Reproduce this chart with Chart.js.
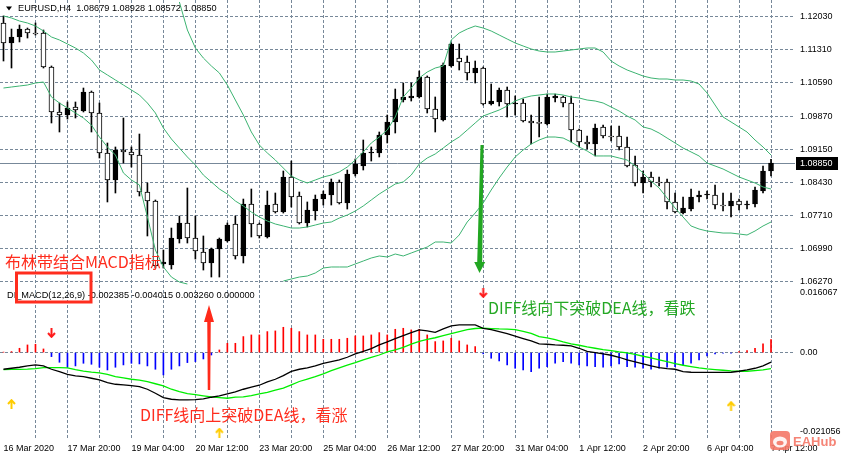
<!DOCTYPE html>
<html><head><meta charset="utf-8">
<script src="https://cdn.jsdelivr.net/npm/chart.js@4.4.1/dist/chart.umd.min.js"></script>
<style>html,body{margin:0;padding:0;background:#fff;overflow:hidden}#wrap{position:relative;width:841px;height:456px}canvas{display:block}</style>
</head><body><div id="wrap"><canvas id="c" width="841" height="456"></canvas></div>
<script>
// ---------- data ----------
const symbolTitle = 'EURUSD,H4  1.08679 1.08928 1.08572 1.08850';
const macdTitle = 'DI_MACD(12,26,9) -0.002385 -0.004015 0.003260 0.000000';
const lastPrice = 1.08850;

const xLabelIdx = [0, 8, 16, 24, 32, 40, 48, 56, 64, 72, 80, 88, 96];
const xLabelText = ['16 Mar 2020','17 Mar 20:00','19 Mar 04:00','20 Mar 12:00','23 Mar 20:00','25 Mar 04:00','26 Mar 12:00','27 Mar 20:00','31 Mar 04:00','1 Apr 12:00','2 Apr 20:00','6 Apr 04:00','7 Apr 12:00'];
const xGridIdx = [0,4,8,12,16,20,24,28,32,36,40,44,48,52,56,60,64,68,72,76,80,84,88,92,96];

const priceTicks = [1.12030,1.11310,1.10590,1.09870,1.09150,1.08430,1.07710,1.06990,1.06270];
const macdTickText = ['0.016067','0.00','-0.021056'];
const macdTickAt = [0.014848, 0, -0.01978];

const open = [1.11893,1.11459,1.11589,1.11762,1.11676,1.11676,1.10937,1.09959,1.09893,1.10067,
 1.09980,1.10394,1.09937,1.09068,1.08481,1.09133,1.09090,1.09024,1.08220,1.08024,
 1.06655,1.06633,1.07198,1.07546,1.07220,1.06916,1.06677,1.06980,1.07154,1.07524,
 1.06829,1.07959,1.07524,1.07242,1.07959,1.07785,1.08546,1.08133,1.07546,1.07806,
 1.08067,1.08154,1.08438,1.07981,1.08611,1.08785,1.09068,1.09068,1.09458,1.09742,
 1.10219,1.10263,1.10285,1.10720,1.10023,1.09785,1.10959,1.11132,1.11046,1.10807,
 1.10915,1.10132,1.10176,1.10437,1.10132,1.10154,1.09763,1.09720,1.09698,1.10263,
 1.10285,1.10154,1.09567,1.09307,1.09263,1.09633,1.09437,1.09437,1.09198,1.08806,
 1.08416,1.08546,1.08438,1.08438,1.08003,1.07763,1.07850,1.08111,1.08154,1.08154,
 1.07937,1.07915,1.08024,1.07937,1.07959,1.08241,1.08679];
const high = [1.12046,1.11762,1.11849,1.11784,1.11893,1.11741,1.10959,1.10154,1.10176,1.10176,
 1.10480,1.10415,1.10154,1.09285,1.09198,1.09828,1.09198,1.09480,1.08416,1.08046,
 1.06959,1.07437,1.07698,1.08307,1.07698,1.07264,1.07002,1.07220,1.07546,1.07698,
 1.08067,1.08285,1.07546,1.08241,1.08198,1.08676,1.08893,1.08220,1.08003,1.08154,
 1.08241,1.08502,1.08481,1.08698,1.08937,1.09350,1.09198,1.09524,1.09893,1.10458,
 1.10589,1.10589,1.10850,1.10742,1.10285,1.11024,1.11459,1.11437,1.11176,1.11067,
 1.10937,1.10567,1.10480,1.10502,1.10307,1.10241,1.09893,1.10285,1.10350,1.10350,
 1.10307,1.10307,1.09589,1.09437,1.09698,1.09676,1.09655,1.09655,1.09415,1.09003,
 1.08676,1.08655,1.08546,1.08502,1.08198,1.08111,1.08285,1.08241,1.08241,1.08372,
 1.08198,1.08198,1.08067,1.08024,1.08328,1.08785,1.08928];
const low = [1.11067,1.10915,1.11481,1.11567,1.11632,1.10915,1.09720,1.09524,1.09806,1.09828,
 1.09959,1.09524,1.08959,1.08003,1.08198,1.08850,1.08763,1.08133,1.07264,1.06568,
 1.06568,1.06546,1.07111,1.07111,1.06763,1.06524,1.06372,1.06372,1.07133,1.06763,
 1.06677,1.07242,1.07220,1.07220,1.07763,1.07763,1.07894,1.07524,1.07459,1.07611,
 1.07937,1.07937,1.07959,1.07850,1.08568,1.08698,1.08893,1.08981,1.09285,1.09502,
 1.10176,1.10197,1.10263,1.09937,1.09524,1.09763,1.10937,1.10872,1.10654,1.10589,
 1.10110,1.10110,1.10089,1.09850,1.09893,1.09742,1.09263,1.09415,1.09676,1.10176,
 1.10067,1.09307,1.09198,1.09154,1.09003,1.09393,1.09328,1.09133,1.08763,1.08351,
 1.08198,1.08329,1.08351,1.07850,1.07763,1.07741,1.07806,1.08003,1.08067,1.07850,
 1.07806,1.07676,1.07828,1.07850,1.07894,1.08198,1.08572];
const close = [1.11459,1.11589,1.11762,1.11676,1.11654,1.10937,1.09959,1.09893,1.10045,1.10002,
 1.10394,1.09937,1.09068,1.08481,1.09133,1.09090,1.09024,1.08220,1.08024,1.06612,
 1.06699,1.07220,1.07546,1.07220,1.06937,1.06677,1.06980,1.07198,1.07502,1.06829,
 1.07959,1.07524,1.07264,1.07937,1.07785,1.08546,1.08111,1.07546,1.07828,1.08067,
 1.08176,1.08438,1.07981,1.08611,1.08828,1.09068,1.09090,1.09458,1.09742,1.10241,
 1.10285,1.10307,1.10720,1.10023,1.09806,1.10980,1.11437,1.11046,1.10807,1.10915,
 1.10132,1.10197,1.10437,1.10132,1.10154,1.09763,1.09720,1.09710,1.10285,1.10307,
 1.10154,1.09567,1.09307,1.09263,1.09611,1.09437,1.09415,1.09198,1.08785,1.08416,
 1.08546,1.08438,1.08416,1.08003,1.07785,1.07872,1.08111,1.08154,1.08176,1.07937,
 1.07915,1.08024,1.07937,1.07959,1.08263,1.08676,1.08850];

const bbMiddle = [1.12046,1.12002,1.11936,1.11893,1.11828,1.11719,1.11589,1.11524,1.11437,1.11350,
 1.11241,1.11089,1.10872,1.10763,1.10654,1.10545,1.10437,1.10328,1.10154,1.09937,
 1.09611,1.09372,1.09176,1.08981,1.08807,1.08589,1.08438,1.08285,1.08176,1.08024,
 1.07916,1.07785,1.07676,1.07590,1.07524,1.07481,1.07437,1.07437,1.07459,1.07502,
 1.07546,1.07568,1.07654,1.07719,1.07806,1.07916,1.08046,1.08176,1.08285,1.08394,
 1.08438,1.08589,1.08828,1.08959,1.09046,1.09176,1.09307,1.09415,1.09567,1.09720,
 1.09872,1.09937,1.10002,1.10089,1.10198,1.10263,1.10307,1.10328,1.10350,1.10350,
 1.10328,1.10285,1.10263,1.10219,1.10198,1.10154,1.10067,1.09980,1.09872,1.09785,
 1.09633,1.09589,1.09502,1.09393,1.09285,1.09176,1.09090,1.09003,1.08850,1.08785,
 1.08720,1.08633,1.08546,1.08481,1.08416,1.08329,1.08285];
const bbUpper = [null,null,null,null,null,null,null,null,null,null,
 null,null,null,null,null,null,null,null,null,null,
 null,null,1.12350,1.11741,1.11350,1.11132,1.10959,1.10807,1.10545,1.10219,
 1.09893,1.09524,1.09241,1.09068,1.08915,1.08741,1.08567,1.08481,1.08416,1.08481,
 1.08546,1.08589,1.08655,1.08763,1.08915,1.09090,1.09285,1.09415,1.09567,1.09850,
 1.10285,1.10480,1.10698,1.10828,1.10915,1.10959,1.11524,1.11676,1.11762,1.11828,
 1.11784,1.11719,1.11632,1.11545,1.11459,1.11393,1.11328,1.11284,1.11263,1.11263,
 1.11284,1.11306,1.11328,1.11350,1.11350,1.11263,1.11067,1.10959,1.10872,1.10807,
 1.10741,1.10698,1.10676,1.10676,1.10654,1.10654,1.10632,1.10567,1.10372,1.10111,
 1.09850,1.09742,1.09633,1.09524,1.09350,1.09198,1.09024];
const bbLower = [1.10480,1.10502,1.10524,1.10545,1.10589,1.10611,1.10285,1.10154,1.10045,1.09937,
 1.09828,1.09676,1.09415,1.09198,1.09024,1.08633,1.08481,1.08372,1.07676,1.06959,
 1.06590,1.06372,1.06263,1.06220,null,null,null,null,null,null,
 null,null,null,null,null,1.06285,1.06329,1.06372,1.06394,1.06459,
 1.06568,1.06590,1.06590,1.06590,1.06655,1.06720,1.06785,1.06829,1.06807,1.06872,
 1.06829,1.06894,1.06959,1.07024,1.07133,1.07133,1.07111,1.07285,1.07568,1.07763,
 1.07981,1.08263,1.08524,1.08763,1.08981,1.09133,1.09263,1.09350,1.09415,1.09415,
 1.09393,1.09307,1.09198,1.09111,1.09003,1.09003,1.09003,1.08959,1.08915,1.08785,
 1.08633,1.08459,1.08307,1.08089,1.07872,1.07676,1.07481,1.07415,1.07372,1.07350,
 1.07328,1.07328,1.07307,1.07285,1.07372,1.07481,1.07568];

const macdHist = [0.0001,0.00025,0.00108,0.00191,0.00208,0.00091,-0.001,-0.00241,-0.00365,-0.00332,
 -0.00266,-0.00291,-0.00365,-0.00432,-0.00365,-0.00307,-0.00266,-0.00282,-0.00332,-0.00415,
 -0.00556,-0.00415,-0.00332,-0.00249,-0.00224,-0.00158,-0.0006,0.00066,0.00232,0.00232,
 0.00399,0.0044,0.0044,0.00523,0.0054,0.00631,0.00606,0.00523,0.0044,0.0044,
 0.00332,0.00332,0.00332,0.00357,0.00415,0.00415,0.0044,0.00498,0.0044,0.00581,
 0.00606,0.00565,0.00581,0.0044,0.00274,0.00291,0.00357,0.00291,0.00191,0.0015,
 -0.0003,-0.00141,-0.00208,-0.00307,-0.0039,-0.00432,-0.00473,-0.0039,-0.00349,-0.00266,
 -0.00224,-0.00266,-0.00307,-0.00332,-0.00349,-0.00365,-0.00332,-0.00282,-0.00349,-0.00365,
 -0.0039,-0.00415,-0.0039,-0.00365,-0.00349,-0.00307,-0.00266,-0.00183,-0.00083,-0.00033,
 -0.00017,-0.0001,0.00025,0.0005,0.00108,0.00216,0.00326];
const macdDiff = [-0.00415,-0.0039,-0.00365,-0.00332,-0.00307,-0.00332,-0.00415,-0.00473,-0.0054,-0.00581,
 -0.00598,-0.00639,-0.00681,-0.00747,-0.00789,-0.00805,-0.00822,-0.00847,-0.00913,-0.01013,
 -0.01121,-0.01162,-0.01179,-0.01179,-0.0117,-0.01154,-0.01112,-0.01079,-0.01029,-0.00979,
 -0.00913,-0.00863,-0.00813,-0.0073,-0.00664,-0.00573,-0.0047,-0.00415,-0.00382,-0.00332,
 -0.00266,-0.00224,-0.00183,-0.00116,-0.00033,0.00033,0.001,0.00191,0.00266,0.00349,
 0.00423,0.00498,0.00565,0.0054,0.00506,0.00589,0.00664,0.00689,0.00689,0.00689,
 0.00606,0.0057,0.0052,0.0047,0.0041,0.0035,0.0029,0.00216,0.00208,0.00191,
 0.00183,0.00166,0.00108,0.00033,0,-0.00033,-0.00066,-0.00116,-0.00183,-0.00232,
 -0.00282,-0.00332,-0.00374,-0.00398,-0.00415,-0.00475,-0.0049,-0.00495,-0.00495,-0.00495,
 -0.00495,-0.0049,-0.00465,-0.00432,-0.0039,-0.00332,-0.002385];
const macdDea = [-0.00426,-0.00418,-0.00417,-0.00413,-0.004,-0.00376,-0.00374,-0.00372,-0.00382,-0.00424,
 -0.00461,-0.00487,-0.00507,-0.00544,-0.00598,-0.00632,-0.00664,-0.00685,-0.00722,-0.00776,
 -0.00828,-0.00913,-0.00972,-0.01021,-0.01048,-0.01077,-0.01105,-0.0112,-0.01137,-0.01108,
 -0.01104,-0.01072,-0.01031,-0.0099,-0.00936,-0.00884,-0.00802,-0.0072,-0.0066,-0.006,
 -0.0053,-0.0045,-0.0038,-0.0031,-0.0025,-0.0018,-0.0012,-0.0006,0.0002,0.0007,
 0.0013,0.0021,0.0028,0.0033,0.0037,0.0042,0.0047,0.0052,0.0057,0.006,
 0.0061,0.00598,0.00589,0.00585,0.00573,0.00531,0.00481,0.00398,0.00365,0.00324,
 0.00266,0.00216,0.00183,0.00141,0.00108,0.00075,0.0005,0.00017,-0.00008,-0.00042,
 -0.00091,-0.00133,-0.00183,-0.00224,-0.00274,-0.00315,-0.00349,-0.00382,-0.00407,-0.00423,
 -0.0044,-0.00457,-0.00465,-0.00465,-0.00448,-0.00432,-0.004015];

const sigDownIdx = [6, 60];
const sigDownVal = [0.00488, 0.01485];
const sigUpIdx = [1, 27, 91];
const sigUpVal = [-0.0128, -0.01995, -0.0133];

// ---------- layout / style ----------
const MAIN_H = 287, SUB_H = 153, AXIS_W = 46, XAXIS_H = 16;
const GRID = '#778899', DASH = [3, 2];
const BAND = '#3cb371';
const AX_FONT = {family: 'Liberation Sans', size: 9};

function arrowGlyph(color, pointUp) {
  const c = document.createElement('canvas'); c.width = 9; c.height = 10;
  const g = c.getContext('2d');
  g.strokeStyle = color; g.lineWidth = 2; g.lineCap = 'butt'; g.lineJoin = 'miter';
  g.save();
  if (pointUp) { g.translate(0, 10); g.scale(1, -1); }
  g.beginPath(); g.moveTo(4.5, 0); g.lineTo(4.5, 9); g.stroke();
  g.beginPath(); g.moveTo(1, 5); g.lineTo(4.5, 8.8); g.lineTo(8, 5); g.stroke();
  g.restore();
  return c;
}

const idx = open.map((_, i) => i);
const pts = arr => idx.map(i => ({x: i, y: arr[i]}));

function drawArrow(ctx, x0, y0, x1, y1, headLen, headW, tailW, neckW, color) {
  const dx = x1 - x0, dy = y1 - y0, len = Math.hypot(dx, dy);
  const ux = dx / len, uy = dy / len, nx = -uy, ny = ux;
  const nX = x1 - ux * headLen, nY = y1 - uy * headLen;
  ctx.beginPath();
  ctx.moveTo(x0 + nx * tailW / 2, y0 + ny * tailW / 2);
  ctx.lineTo(nX + nx * neckW / 2, nY + ny * neckW / 2);
  ctx.lineTo(nX + nx * headW / 2, nY + ny * headW / 2);
  ctx.lineTo(x1, y1);
  ctx.lineTo(nX - nx * headW / 2, nY - ny * headW / 2);
  ctx.lineTo(nX - nx * neckW / 2, nY - ny * neckW / 2);
  ctx.lineTo(x0 - nx * tailW / 2, y0 - ny * tailW / 2);
  ctx.closePath();
  ctx.fillStyle = color; ctx.fill();
}

const noPad = s => { s.paddingTop = 0; s.paddingBottom = 0; s.paddingLeft = 0; s.paddingRight = 0; };

const overlay = {
  id: 'overlay',
  beforeDatasetsDraw(chart) {
    const ctx = chart.ctx, a = chart.chartArea, y = chart.scales.y;
    const py = Math.round(y.getPixelForValue(lastPrice)) + 0.5;
    ctx.save();
    ctx.strokeStyle = GRID; ctx.lineWidth = 1;
    ctx.beginPath(); ctx.moveTo(a.left, py); ctx.lineTo(a.right, py); ctx.stroke();
    ctx.restore();
  },
  afterDraw(chart) {
    const ctx = chart.ctx, a = chart.chartArea, y = chart.scales.y;
    ctx.save();
    // header
    ctx.fillStyle = '#000';
    ctx.beginPath(); ctx.moveTo(6, 6.5); ctx.lineTo(12, 6.5); ctx.lineTo(9, 10.5); ctx.closePath(); ctx.fill();
    ctx.font = '9.2px "Liberation Sans"'; ctx.textBaseline = 'middle'; ctx.textAlign = 'left';
    ctx.fillText(symbolTitle, 18, 8.5);
    ctx.fillText(macdTitle, 7, 295.5);
    // last price label
    const py = Math.round(y.getPixelForValue(lastPrice));
    ctx.fillStyle = '#000'; ctx.fillRect(a.right + 1, py - 6, 42, 13);
    ctx.fillStyle = '#fff'; ctx.font = '9px "Liberation Sans"';
    ctx.fillText(lastPrice.toFixed(5), a.right + 5, py + 0.5);
    // annotation texts
    ctx.font = '16px "Noto Sans CJK SC"';
    ctx.fillStyle = '#ff2d1e';
    ctx.fillText('布林带结合MACD指标', 5, 262);
    ctx.fillText('DIFF线向上突破DEA线，看涨', 140, 415);
    ctx.fillStyle = '#24a824';
    ctx.fillText('DIFF线向下突破DEA线，看跌', 488, 308);
    // red rectangle
    ctx.strokeStyle = '#ff2d1e'; ctx.lineWidth = 3;
    ctx.strokeRect(16.5, 273, 74.5, 29);
    // big arrows
    drawArrow(ctx, 209, 390, 209, 305, 17, 10, 2.5, 3.5, '#ff2a1a');
    drawArrow(ctx, 482, 145, 479.5, 273, 11, 11, 3, 5, '#22a622');
    // watermark
    ctx.globalAlpha = 0.9;
    ctx.fillStyle = '#f47767';
    const wx = 770, wy = 431;
    ctx.beginPath(); ctx.roundRect ? ctx.roundRect(wx, wy, 20, 19, 4) : ctx.rect(wx, wy, 20, 19); ctx.fill();
    ctx.fillStyle = '#fff';
    ctx.beginPath(); ctx.ellipse(wx + 10, wy + 11, 7, 5.5, 0, 0, Math.PI * 2); ctx.fill();
    ctx.fillStyle = '#f47767';
    ctx.beginPath(); ctx.ellipse(wx + 10, wy + 12, 3.5, 2.2, 0, 0, Math.PI * 2); ctx.fill();
    ctx.font = 'bold 13px "Liberation Sans"'; ctx.fillStyle = '#f47767';
    ctx.fillText('EAHub', 793, 442);
    ctx.restore();
  }
};

new Chart(document.getElementById('c'), {
  type: 'bar',
  data: {
    datasets: [
      {type: 'line', data: pts(bbUpper), borderColor: BAND, borderWidth: 1, pointRadius: 0, yAxisID: 'y', order: 0, spanGaps: false},
      {type: 'line', data: pts(bbMiddle), borderColor: BAND, borderWidth: 1, pointRadius: 0, yAxisID: 'y', order: 0},
      {type: 'line', data: pts(bbLower), borderColor: BAND, borderWidth: 1, pointRadius: 0, yAxisID: 'y', order: 0, spanGaps: false},
      {type: 'bar', data: idx.map(i => ({x: i, y: [open[i], close[i]]})), yAxisID: 'y', order: 1, grouped: false,
        backgroundColor: c => close[c.dataIndex] > open[c.dataIndex] ? '#000' : '#fff',
        borderColor: '#000', borderWidth: 1, borderSkipped: false, barThickness: 5, minBarLength: 1},
      {type: 'bar', data: idx.map(i => ({x: i, y: [low[i], high[i]]})), yAxisID: 'y', order: 2, grouped: false,
        backgroundColor: '#000', borderWidth: 0, barThickness: 1},
      {type: 'line', data: pts(macdDiff), borderColor: '#000', borderWidth: 1.3, pointRadius: 0, yAxisID: 'y2', order: 3},
      {type: 'line', data: pts(macdDea), borderColor: '#00ee00', borderWidth: 1.3, pointRadius: 0, yAxisID: 'y2', order: 4},
      {type: 'bar', data: pts(macdHist), yAxisID: 'y2', order: 5, grouped: false,
        backgroundColor: c => macdHist[c.dataIndex] >= 0 ? '#ff0000' : '#0000ff', borderWidth: 0, barThickness: 1},
      {type: 'line', data: sigDownIdx.map((k, j) => ({x: k, y: sigDownVal[j]})), showLine: false, yAxisID: 'y2', order: 0,
        pointStyle: arrowGlyph('#ff1a1a', false), pointRadius: 5},
      {type: 'line', data: sigUpIdx.map((k, j) => ({x: k, y: sigUpVal[j]})), showLine: false, yAxisID: 'y2', order: 0,
        pointStyle: arrowGlyph('#ffcc00', true), pointRadius: 5}
    ]
  },
  options: {
    responsive: false, animation: false, devicePixelRatio: 1,
    layout: {padding: 0, autoPadding: false},
    plugins: {legend: {display: false}, tooltip: {enabled: false}},
    scales: {
      x: {
        type: 'linear', min: -0.4375, max: 99, offset: false,
        afterBuildTicks: s => { s.ticks = xGridIdx.map(v => ({value: v})); },
        afterFit: s => { s.height = XAXIS_H; noPad(s); },
        grid: {color: c => (c.tick && c.tick.value === 0) ? 'rgba(0,0,0,0)' : GRID, drawTicks: false, offset: false, lineWidth: 1},
        border: {display: false, dash: DASH},
        ticks: {autoSkip: false, maxRotation: 0, minRotation: 0, align: 'start', padding: 3, color: '#000', font: AX_FONT,
          callback: v => { const j = xLabelIdx.indexOf(v); return j >= 0 ? xLabelText[j] : ''; }}
      },
      y: {
        type: 'linear', position: 'right', stack: 'panes', stackWeight: MAIN_H, offset: false,
        min: 1.06155, max: 1.12393,
        afterBuildTicks: s => { s.ticks = priceTicks.map(v => ({value: v})); },
        afterFit: s => { s.width = AXIS_W; noPad(s); },
        grid: {color: GRID, drawTicks: false, lineWidth: 1},
        border: {display: false, dash: DASH},
        ticks: {padding: 5, color: '#000', font: AX_FONT, callback: v => v.toFixed(5)}
      },
      y2: {
        type: 'linear', position: 'right', stack: 'panes', stackWeight: SUB_H, offset: false,
        min: -0.021774, max: 0.016343,
        afterBuildTicks: s => { s.ticks = macdTickAt.map(v => ({value: v})); },
        afterFit: s => { s.width = AXIS_W; noPad(s); },
        grid: {color: c => (c.tick && c.tick.value === 0) ? GRID : 'rgba(0,0,0,0)', drawTicks: false, lineWidth: 1},
        border: {display: false, dash: DASH},
        ticks: {padding: 5, color: '#000', font: AX_FONT, callback: (v, i) => macdTickText[i]}
      }
    }
  },
  plugins: [overlay]
});
</script>
</body></html>
